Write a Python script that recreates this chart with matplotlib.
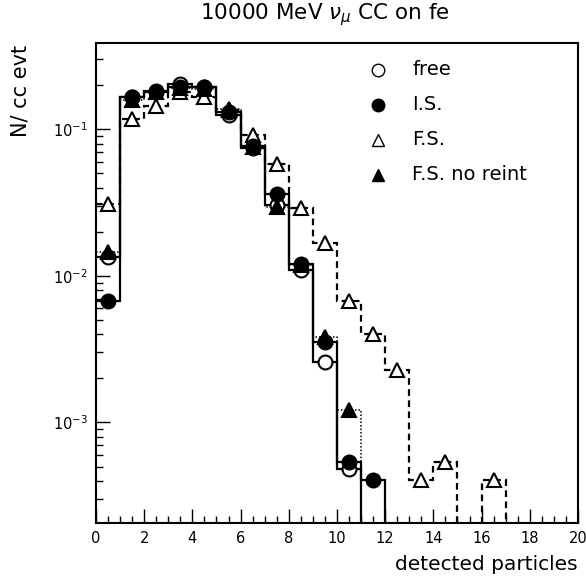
import numpy as np
import matplotlib
matplotlib.use('Agg')
import matplotlib.pyplot as plt
import matplotlib.transforms as mtransforms
from matplotlib.ticker import MultipleLocator, LogLocator

plt.rcParams['font.family'] = ['DejaVu Sans']

# bin edges 0..20, one entry per bin (0 = empty)
edges = np.arange(0, 21)
free = [0.0135, 0.166, 0.181, 0.203, 0.193, 0.125, 0.0769, 0.0304, 0.0109, 0.00258,
        0.00048, 0, 0, 0, 0, 0, 0, 0, 0, 0]
i_s = [0.0067, 0.165, 0.182, 0.195, 0.195, 0.132, 0.0741, 0.0360, 0.0121, 0.00353,
       0.000538, 0.000403, 0, 0, 0, 0, 0, 0, 0, 0]
f_s = [0.0307, 0.1175, 0.145, 0.181, 0.165, 0.135, 0.0915, 0.058, 0.0289, 0.0167,
       0.00673, 0.0040, 0.00228, 0.000403, 0.000538, 0, 0.000403, 0, 0, 0]
f_s_nr = [0.0146, 0.158, 0.180, 0.191, 0.188, 0.138, 0.0757, 0.0295, 0.0119, 0.00383,
          0.00122, 0, 0, 0, 0, 0, 0, 0, 0, 0]

labels = ['free', 'I.S.', 'F.S.', 'F.S. no reint']

fig = plt.figure(figsize=(5.86, 5.78), dpi=100)
ax = fig.add_axes([0.1638, 0.0952, 0.8225, 0.8304])
ax.set_yscale('log')

centers = 0.5 * (edges[:-1] + edges[1:])

series = [
    (free, '-', 1.6, dict(marker='o', mfc='white', mec='black')),
    (i_s, '-', 1.6, dict(marker='o', mfc='black', mec='black')),
    (f_s, (0, (3, 2)), 1.6, dict(marker='^', mfc='white', mec='black')),
    (f_s_nr, (0, (1, 1.3)), 1.1, dict(marker='^', mfc='black', mec='black')),
]

for vals, ls, lw, mk in series:
    v = np.array(vals, dtype=float)
    ax.stairs(np.where(v > 0, v, 1e-9), edges, baseline=None, color='black',
              linestyle=ls, linewidth=lw)

# markers drawn after the lines
for vals, ls, lw, mk in [series[2], series[0], series[1], series[3]]:
    v = np.array(vals, dtype=float)
    m = v > 0
    ax.plot(centers[m], v[m], linestyle='none', markersize=10, markeredgewidth=1.5, **mk)

ax.set_xlim(0, 20)
ax.set_ylim(2.06e-4, 0.388)

ax.xaxis.set_major_locator(MultipleLocator(2))
ax.xaxis.set_minor_locator(MultipleLocator(0.5))
ax.yaxis.set_major_locator(LogLocator(base=10))
ax.yaxis.set_minor_locator(LogLocator(base=10, subs=np.arange(2, 10)))
ax.tick_params(which='both', direction='in', top=False, right=False, width=1, colors='black')
ax.tick_params(which='major', length=10, labelsize=10.5, pad=6)
ax.tick_params(which='minor', length=5)
for s in ax.spines.values():
    s.set_linewidth(1.5)

# nudge the last x label so it stays inside the canvas
fig.canvas.draw()
last = ax.get_xticklabels()[-1]
last.set_transform(last.get_transform() +
                   mtransforms.ScaledTranslation(-3 / 100, 0, fig.dpi_scale_trans))

ax.text(0.474, 1.06, r'10000 MeV $\nu_\mu$ CC on fe', transform=ax.transAxes,
        fontsize=15.5, ha='center', va='center')
ax.text(1.0, -0.0875, 'detected particles', transform=ax.transAxes,
        fontsize=14.5, ha='right', va='center')
ax.text(-0.156, 0.996, 'N/ cc evt', transform=ax.transAxes, rotation=90,
        fontsize=15, ha='center', va='top')

# legend
leg_styles = [series[0][3], series[1][3], series[2][3], series[3][3]]
for k, (lab, mk) in enumerate(zip(labels, leg_styles)):
    yk = 0.944 - k * 0.073
    ax.plot([0.585], [yk], transform=ax.transAxes, linestyle='none', markersize=9,
            markeredgewidth=1.0, **mk)
    ax.text(0.656, yk, lab, transform=ax.transAxes, fontsize=14, va='center', ha='left')

fig.savefig('out.png', dpi=100)
